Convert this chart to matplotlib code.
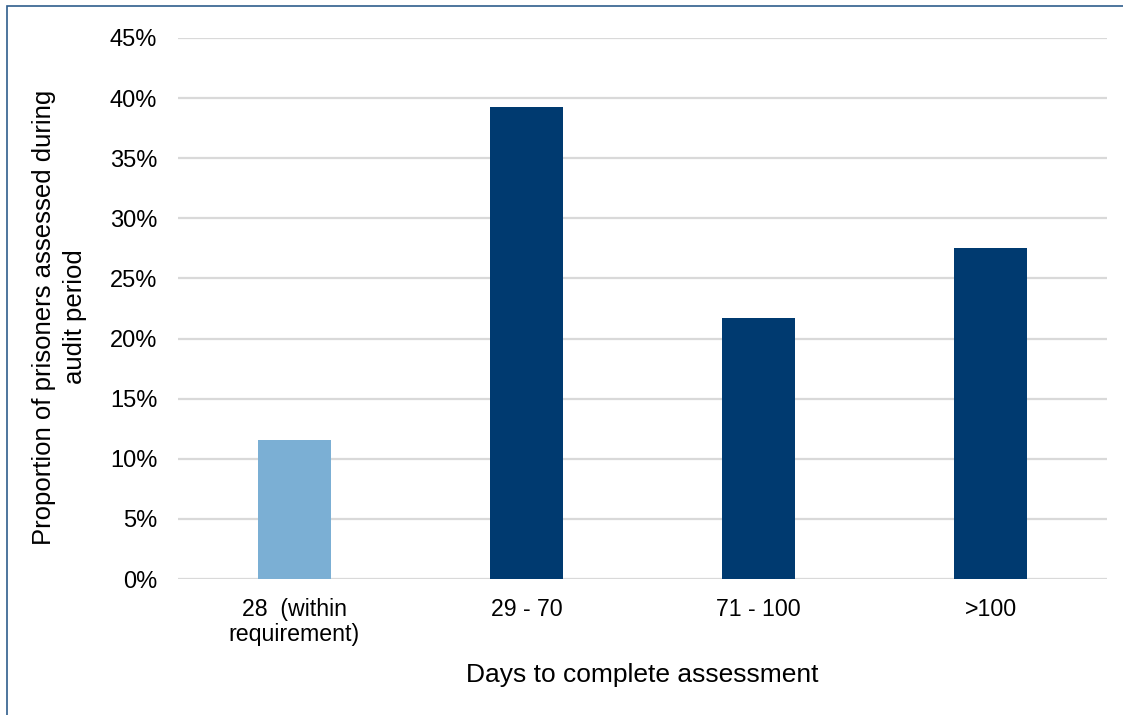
import matplotlib
matplotlib.use("Agg")
import matplotlib.pyplot as plt
from matplotlib.patches import Rectangle
from matplotlib.ticker import PercentFormatter

categories = ["28  (within\nrequirement)", "29 - 70", "71 - 100", ">100"]
values = [11.6, 39.3, 21.7, 27.5]
colors = ["#7BAFD4", "#003A70", "#003A70", "#003A70"]
yticks = [0, 5, 10, 15, 20, 25, 30, 35, 40, 45]

plt.rcParams['font.family'] = ['Liberation Sans', 'DejaVu Sans']

W, H = 1123, 715
fig = plt.figure(figsize=(W / 100, H / 100), dpi=100)
ax = fig.add_axes([178 / W, 1 - 579 / H, (1107 - 178) / W, (579 - 38) / H])

x = list(range(len(categories)))
ax.bar(x, values, width=0.315, color=colors, zorder=3)
ax.set_xlim(-0.5, len(categories) - 0.5)
ax.set_ylim(0, 45)
ax.set_yticks(yticks)
ax.yaxis.set_major_formatter(PercentFormatter(decimals=0))
ax.set_xticks(x)
ax.set_xticklabels(categories, fontsize=16.7, linespacing=1.1)
ax.tick_params(axis='y', labelsize=17, length=0, pad=15)
ax.tick_params(axis='x', length=0, pad=14)
ax.grid(axis='y', color='#D9D9D9', linewidth=1.6, zorder=0)
for s in ax.spines.values():
    s.set_visible(False)

fig.text(642 / W, 1 - 675 / H, "Days to complete assessment", fontsize=19,
         ha='center', va='center')
fig.text(59.5 / W, 1 - 317 / H, "Proportion of prisoners assessed during\naudit period",
         fontsize=18.5, rotation=90, ha='center', va='center', multialignment='center',
         linespacing=1.35)

border = Rectangle((7 / W, -0.1), 1.2, 1.1 - 6 / H, transform=fig.transFigure,
                   fill=False, edgecolor='#2F5D8C', linewidth=1.2)
fig.patches.append(border)

fig.savefig("out.png", dpi=100)
